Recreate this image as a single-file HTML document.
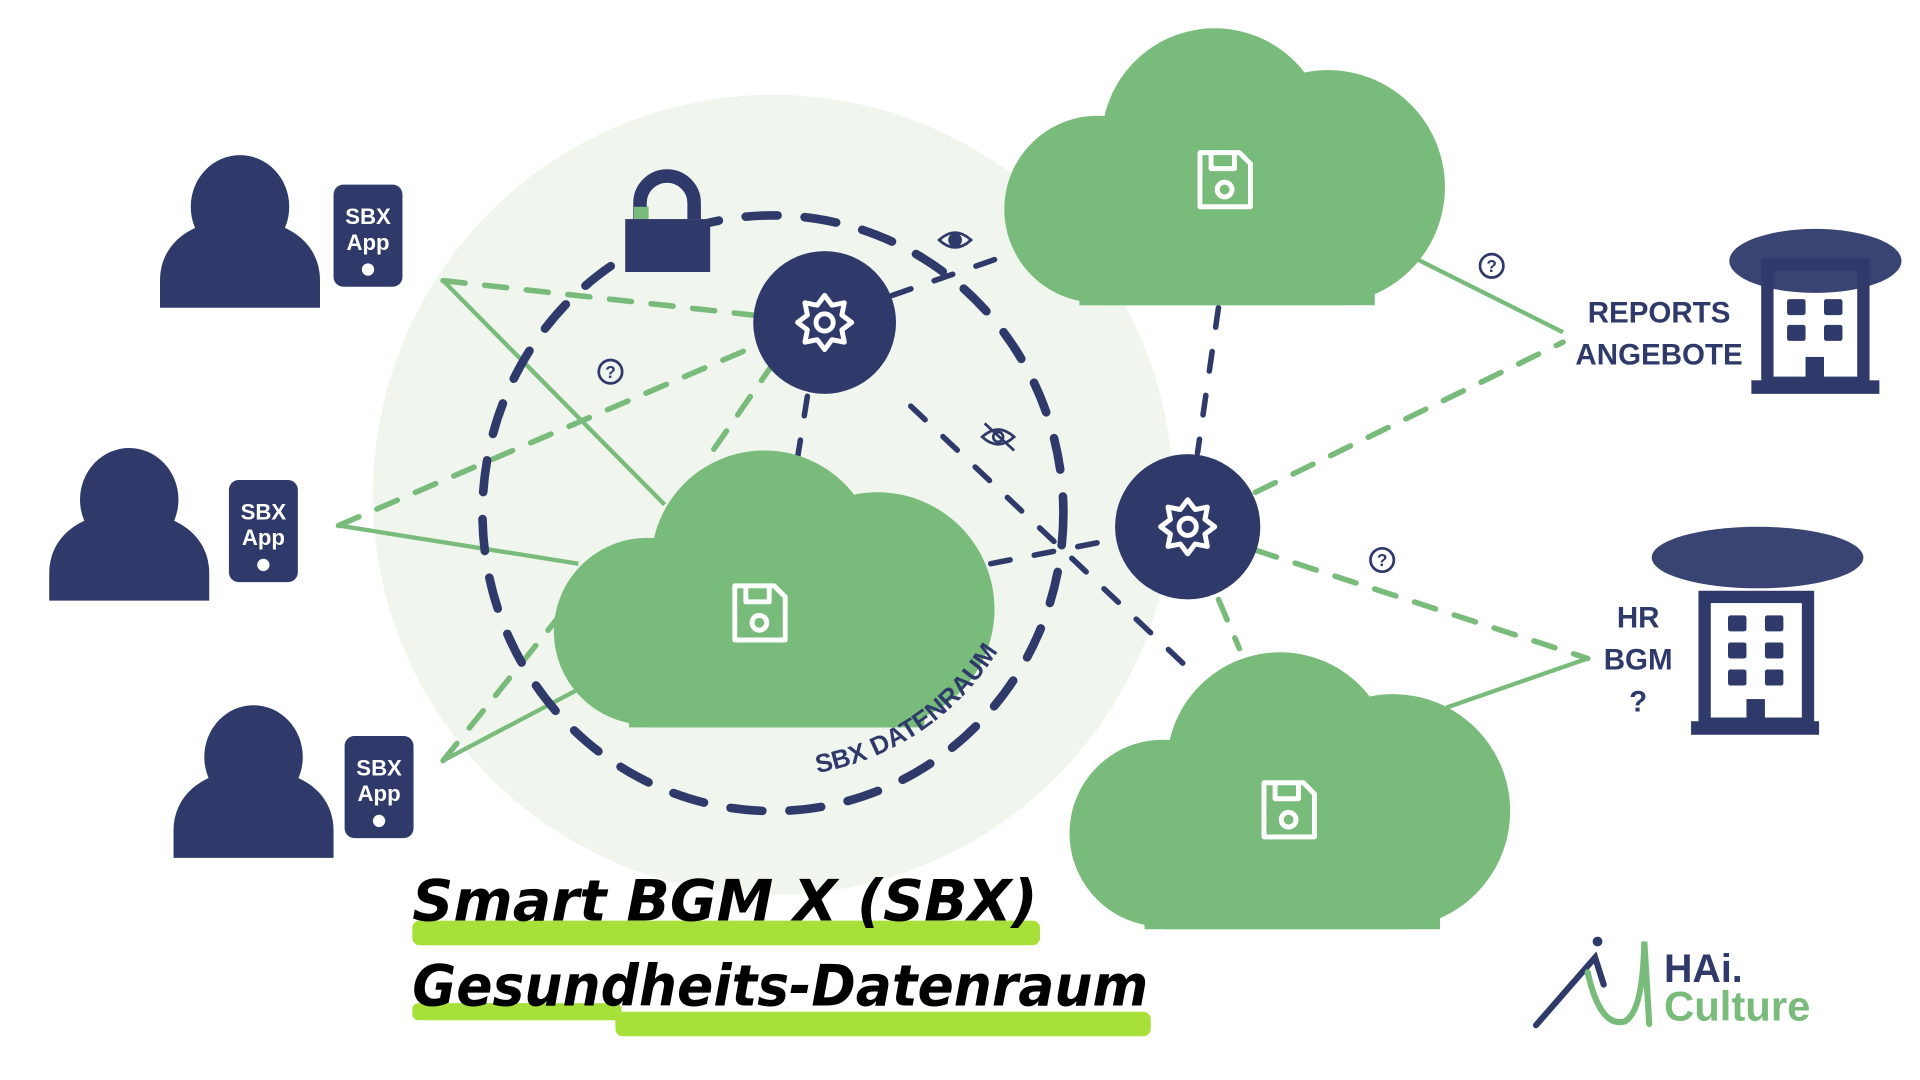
<!DOCTYPE html>
<html><head><meta charset="utf-8"><style>
html,body{margin:0;padding:0;background:#fff;width:1920px;height:1080px;overflow:hidden}
svg{display:block}
</style></head><body>
<svg width="1920" height="1080" viewBox="0 0 1560 877.5" preserveAspectRatio="none" xmlns="http://www.w3.org/2000/svg">
<defs>
<g id="cloud">
<circle cx="75" cy="150" r="76" fill="#78bb7b"/>
<circle cx="170" cy="95" r="92" fill="#78bb7b"/>
<circle cx="262" cy="132" r="95" fill="#78bb7b"/>
<rect x="75" y="120" width="200" height="108" fill="#78bb7b"/>
<rect x="60" y="150" width="240" height="78" fill="#78bb7b"/>
</g>
<g id="floppy" fill="none" stroke="#fff" stroke-width="4" stroke-linejoin="round">
<path d="M-20,-22 H12 L21,-13 V22 H-20 Z"/>
<path d="M-11,-22 V-9 H8 V-22"/>
<circle cx="0" cy="8" r="6"/>
</g>
<g id="gear" fill="none" stroke="#fff" stroke-width="4" stroke-linejoin="round">
<path d="M0,-22 L6,-14 L16,-16 L14,-6 L22,0 L14,6 L16,16 L6,14 L0,22 L-6,14 L-16,16 L-14,6 L-22,0 L-14,-6 L-16,-16 L-6,-14 Z"/>
<circle r="7"/>
</g>
<g id="q"><circle r="9.5" fill="none" stroke="#2f3a6b" stroke-width="2.2"/><text y="5" text-anchor="middle" font-family="Liberation Sans" font-weight="bold" font-size="14" fill="#2f3a6b">?</text></g>
<g id="person" fill="#2f3a6b"><ellipse cx="0" cy="0" rx="40" ry="42"/><path d="M-65,82 V60 C-65,30 -40,10 0,10 C40,10 65,30 65,60 V82 Z"/></g>
<g id="phone"><rect x="0" y="0" width="56" height="83" rx="8" fill="#2f3a6b"/><text x="28" y="32" text-anchor="middle" font-family="Liberation Sans" font-weight="bold" font-size="18" fill="#fff">SBX</text><text x="28" y="53" text-anchor="middle" font-family="Liberation Sans" font-weight="bold" font-size="18" fill="#fff">App</text><circle cx="28" cy="69" r="5" fill="#fff"/></g>
</defs>

<circle cx="628" cy="402" r="325" fill="#f0f5ee"/>

<!-- lines -->
<g stroke="#78bb7b" stroke-width="3.5" fill="none">
<line x1="360" y1="228" x2="540" y2="410"/>
<line x1="275" y1="427" x2="470" y2="458"/>
<line x1="360" y1="618" x2="470" y2="560"/>
<line x1="1150" y1="210" x2="1270" y2="270"/>
<line x1="1175" y1="575" x2="1290" y2="535"/>
</g>
<g stroke="#78bb7b" stroke-width="4.5" fill="none" stroke-dasharray="18 16" stroke-linecap="round">
<line x1="360" y1="228" x2="612" y2="256"/>
<line x1="275" y1="427" x2="605" y2="285"/>
<line x1="360" y1="618" x2="455" y2="500"/>
<line x1="580" y1="365" x2="632" y2="290"/>
<line x1="1020" y1="400" x2="1270" y2="278"/>
<line x1="1020" y1="447" x2="1290" y2="535"/>
<line x1="990" y1="487" x2="1007" y2="527"/>
</g>
<g stroke="#2f3a6b" stroke-width="4.5" fill="none" stroke-dasharray="16 20" stroke-linecap="round">
<line x1="656" y1="322" x2="648" y2="372"/>
<line x1="725" y1="240" x2="825" y2="205"/>
<line x1="740" y1="330" x2="975" y2="552"/>
<line x1="805" y1="458" x2="907" y2="438"/>
<line x1="990" y1="250" x2="973" y2="368"/>
</g>
<ellipse cx="628" cy="417" rx="236" ry="242" fill="none" stroke="#2f3a6b" stroke-width="7" stroke-dasharray="26 22" stroke-linecap="round"/>

<!-- clouds -->
<use href="#cloud" transform="translate(817,20)"/>
<use href="#cloud" transform="translate(451,363)"/>
<use href="#cloud" transform="translate(870,527)"/>
<use href="#floppy" transform="translate(995,146)"/>
<use href="#floppy" transform="translate(617,498)"/>
<use href="#floppy" transform="translate(1047,658)"/>

<!-- gears -->
<circle cx="670" cy="262" r="58" fill="#2f3a6b"/>
<use href="#gear" transform="translate(670,262)"/>
<circle cx="965" cy="428" r="59" fill="#2f3a6b"/>
<use href="#gear" transform="translate(965,428)"/>

<!-- lock -->
<path d="M520,178 V165 A22,22 0 0 1 564,165 V178" fill="none" stroke="#2f3a6b" stroke-width="11"/>
<rect x="515" y="168" width="12" height="10" fill="#78bb7b"/>
<rect x="508" y="178" width="69" height="43" fill="#2f3a6b"/>

<!-- icons -->
<use href="#q" transform="translate(496,302)"/>
<use href="#q" transform="translate(1212,216)"/>
<use href="#q" transform="translate(1123,455)"/>
<g transform="translate(776,195)" fill="none" stroke="#2f3a6b" stroke-width="2.2"><path d="M-13,0 Q0,-12 13,0 Q0,12 -13,0 Z"/><circle r="4.5" fill="#2f3a6b"/></g>
<g transform="translate(811,355)" fill="none" stroke="#2f3a6b" stroke-width="2.2"><path d="M-13,0 Q0,-12 13,0 Q0,12 -13,0 Z"/><circle r="4"/><line x1="-11" y1="-11" x2="13" y2="11"/></g>

<!-- persons -->
<use href="#person" transform="translate(195,168)"/>
<use href="#phone" transform="translate(271,150)"/>
<use href="#person" transform="translate(105,406)"/>
<use href="#phone" transform="translate(186,390)"/>
<use href="#person" transform="translate(206,615)"/>
<use href="#phone" transform="translate(280,598)"/>

<!-- arc text -->
<path id="arcp" d="M664,628 A215,215 0 0 0 836,470" fill="none"/>
<text font-family="Liberation Sans" font-weight="bold" font-size="21" fill="#2f3a6b"><textPath href="#arcp">SBX DATENRAUM</textPath></text>

<!-- right labels -->
<g font-family="Liberation Sans" font-weight="bold" font-size="24" fill="#2f3a6b" text-anchor="middle">
<text x="1348" y="262">REPORTS</text>
<text x="1348" y="296">ANGEBOTE</text>
<text x="1331" y="510">HR</text>
<text x="1331" y="544">BGM</text>
<text x="1331" y="578">?</text>
</g>

<!-- buildings -->
<ellipse cx="1475" cy="212" rx="70" ry="26" fill="#2f3a6b" opacity="0.95"/>
<rect x="1436" y="215" width="78" height="96" fill="none" stroke="#2f3a6b" stroke-width="10"/>
<rect x="1423" y="309" width="104" height="11" fill="#2f3a6b"/>
<g fill="#2f3a6b"><rect x="1452" y="243" width="15" height="13" rx="2"/><rect x="1482" y="243" width="15" height="13" rx="2"/><rect x="1452" y="264" width="15" height="13" rx="2"/><rect x="1482" y="264" width="15" height="13" rx="2"/><rect x="1467" y="290" width="15" height="22"/></g>
<ellipse cx="1428" cy="453" rx="86" ry="25" fill="#2f3a6b" opacity="0.95"/>
<rect x="1385" y="485" width="84" height="103" fill="none" stroke="#2f3a6b" stroke-width="10"/>
<rect x="1374" y="586" width="104" height="11" fill="#2f3a6b"/>
<g fill="#2f3a6b"><rect x="1404" y="500" width="15" height="13" rx="2"/><rect x="1434" y="500" width="15" height="13" rx="2"/><rect x="1404" y="522" width="15" height="13" rx="2"/><rect x="1434" y="522" width="15" height="13" rx="2"/><rect x="1404" y="544" width="15" height="13" rx="2"/><rect x="1434" y="544" width="15" height="13" rx="2"/><rect x="1419" y="568" width="15" height="22"/></g>

<!-- title -->
<rect x="335" y="748" width="510" height="20" fill="#a8e03a" rx="6"/>
<rect x="335" y="815" width="170" height="14" fill="#a8e03a" rx="5"/>
<rect x="500" y="822" width="435" height="20" fill="#a8e03a" rx="6"/>
<g font-family="DejaVu Sans" font-style="oblique" font-weight="bold" font-size="46" fill="#000">
<text x="335" y="748" textLength="508" lengthAdjust="spacingAndGlyphs">Smart BGM X (SBX)</text>
<text x="335" y="817" textLength="598" lengthAdjust="spacingAndGlyphs">Gesundheits-Datenraum</text>
</g>

<!-- logo -->
<path d="M1248,833 L1296,778 L1303,800" fill="none" stroke="#2f3a6b" stroke-width="5" stroke-linecap="round"/>
<circle cx="1298" cy="765" r="4" fill="#2f3a6b"/>
<path d="M1290,790 Q1300,835 1320,830 Q1335,822 1336,765 L1340,832" fill="none" stroke="#78bb7b" stroke-width="5" stroke-linecap="round"/>
<text x="1352" y="798" font-family="Liberation Sans" font-weight="bold" font-size="32" fill="#2f3a6b">HAi.</text>
<text x="1352" y="829" font-family="Liberation Sans" font-weight="bold" font-size="34" fill="#78bb7b">Culture</text>
</svg>
</body></html>
